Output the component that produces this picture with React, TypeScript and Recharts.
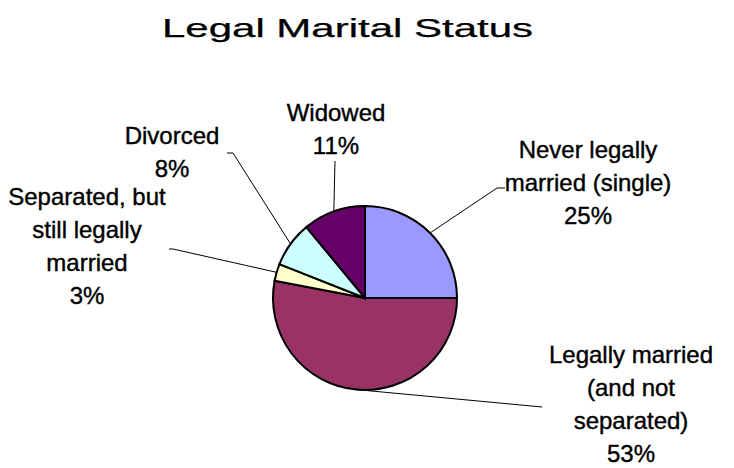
import React from "react";
import { PieChart, Pie, Cell } from "recharts";

const categories = [
  "Never legally married (single)",
  "Legally married (and not separated)",
  "Separated, but still legally married",
  "Divorced",
  "Widowed",
];
const percents = [25, 53, 3, 8, 11];
const labelLines = [
  ["Never legally", "married (single)"],
  ["Legally married", "(and not", "separated)"],
  ["Separated, but", "still legally", "married"],
  ["Divorced"],
  ["Widowed"],
];
const colors = ["#9999FF", "#993366", "#FFFFCC", "#CCFFFF", "#660066"];
const title = "Legal Marital Status";

const data = categories.map((name, i) => ({ name, value: percents[i], lines: labelLines[i] }));

// label layout relative to pie centre: text centre/first baseline, leader elbow and end
const labelLayout = [
  { tx: 223, ty: -140, elbow: [132, -110], end: [140, -110] },
  { tx: 266, ty: 65, elbow: null, end: [177, 109] },
  { tx: -278, ty: -93, elbow: [-192, -49], end: [-196, -49] },
  { tx: -193, ty: -154, elbow: [-132, -145], end: [-138, -145] },
  { tx: -29, ty: -177, elbow: null, end: [-30, -137] },
];

const RAD = Math.PI / 180;
const LINE_H = 33;
const FONT = "'Liberation Sans', Arial, sans-serif";

const renderLabel = (props: any) => {
  const { cx, cy, midAngle, outerRadius, index, value } = props;
  const lay = labelLayout[index];
  const sx = cx + outerRadius * Math.cos(-midAngle * RAD);
  const sy = cy + outerRadius * Math.sin(-midAngle * RAD);
  const pts: number[][] = [[sx, sy]];
  if (lay.elbow) pts.push([cx + lay.elbow[0], cy + lay.elbow[1]]);
  pts.push([cx + lay.end[0], cy + lay.end[1]]);
  const lines = [...data[index].lines, `${value}%`];
  return (
    <g key={`lbl-${index}`}>
      <polyline
        points={pts.map((p) => p.join(",")).join(" ")}
        fill="none"
        stroke="#000"
        strokeWidth={1}
      />
      <text
        x={cx + lay.tx}
        y={cy + lay.ty}
        textAnchor="middle"
        fontFamily={FONT}
        fontSize={24}
        fill="#000"
        stroke="#000"
        strokeWidth={0.4}
      >
        {lines.map((l, i) => (
          <tspan key={i} x={cx + lay.tx} y={cy + lay.ty + i * LINE_H}>
            {l}
          </tspan>
        ))}
      </text>
    </g>
  );
};

export default function App() {
  return (
    <div style={{ position: "absolute", left: 0, top: 0, width: 734, height: 468, background: "#fff" }}>
      <svg width={734} height={60} style={{ position: "absolute", left: 0, top: 0 }}>
        <text
          x={347.5}
          y={37}
          textAnchor="middle"
          fontFamily={FONT}
          fontSize={25}
          textLength={371}
          lengthAdjust="spacingAndGlyphs"
          fill="#000"
          stroke="#000"
          strokeWidth={0.25}
        >
          {title}
        </text>
      </svg>
      <div style={{ position: "absolute", left: 0, top: 0 }}>
        <PieChart width={734} height={468} margin={{ top: 0, right: 0, bottom: 0, left: 0 }}>
          <Pie
            data={data}
            dataKey="value"
            nameKey="name"
            cx={365}
            cy={298}
            outerRadius={92}
            startAngle={90}
            endAngle={-270}
            stroke="#000"
            strokeWidth={2}
            label={renderLabel}
            labelLine={false}
            isAnimationActive={false}
          >
            {data.map((d, i) => (
              <Cell key={d.name} fill={colors[i]} />
            ))}
          </Pie>
        </PieChart>
      </div>
    </div>
  );
}
